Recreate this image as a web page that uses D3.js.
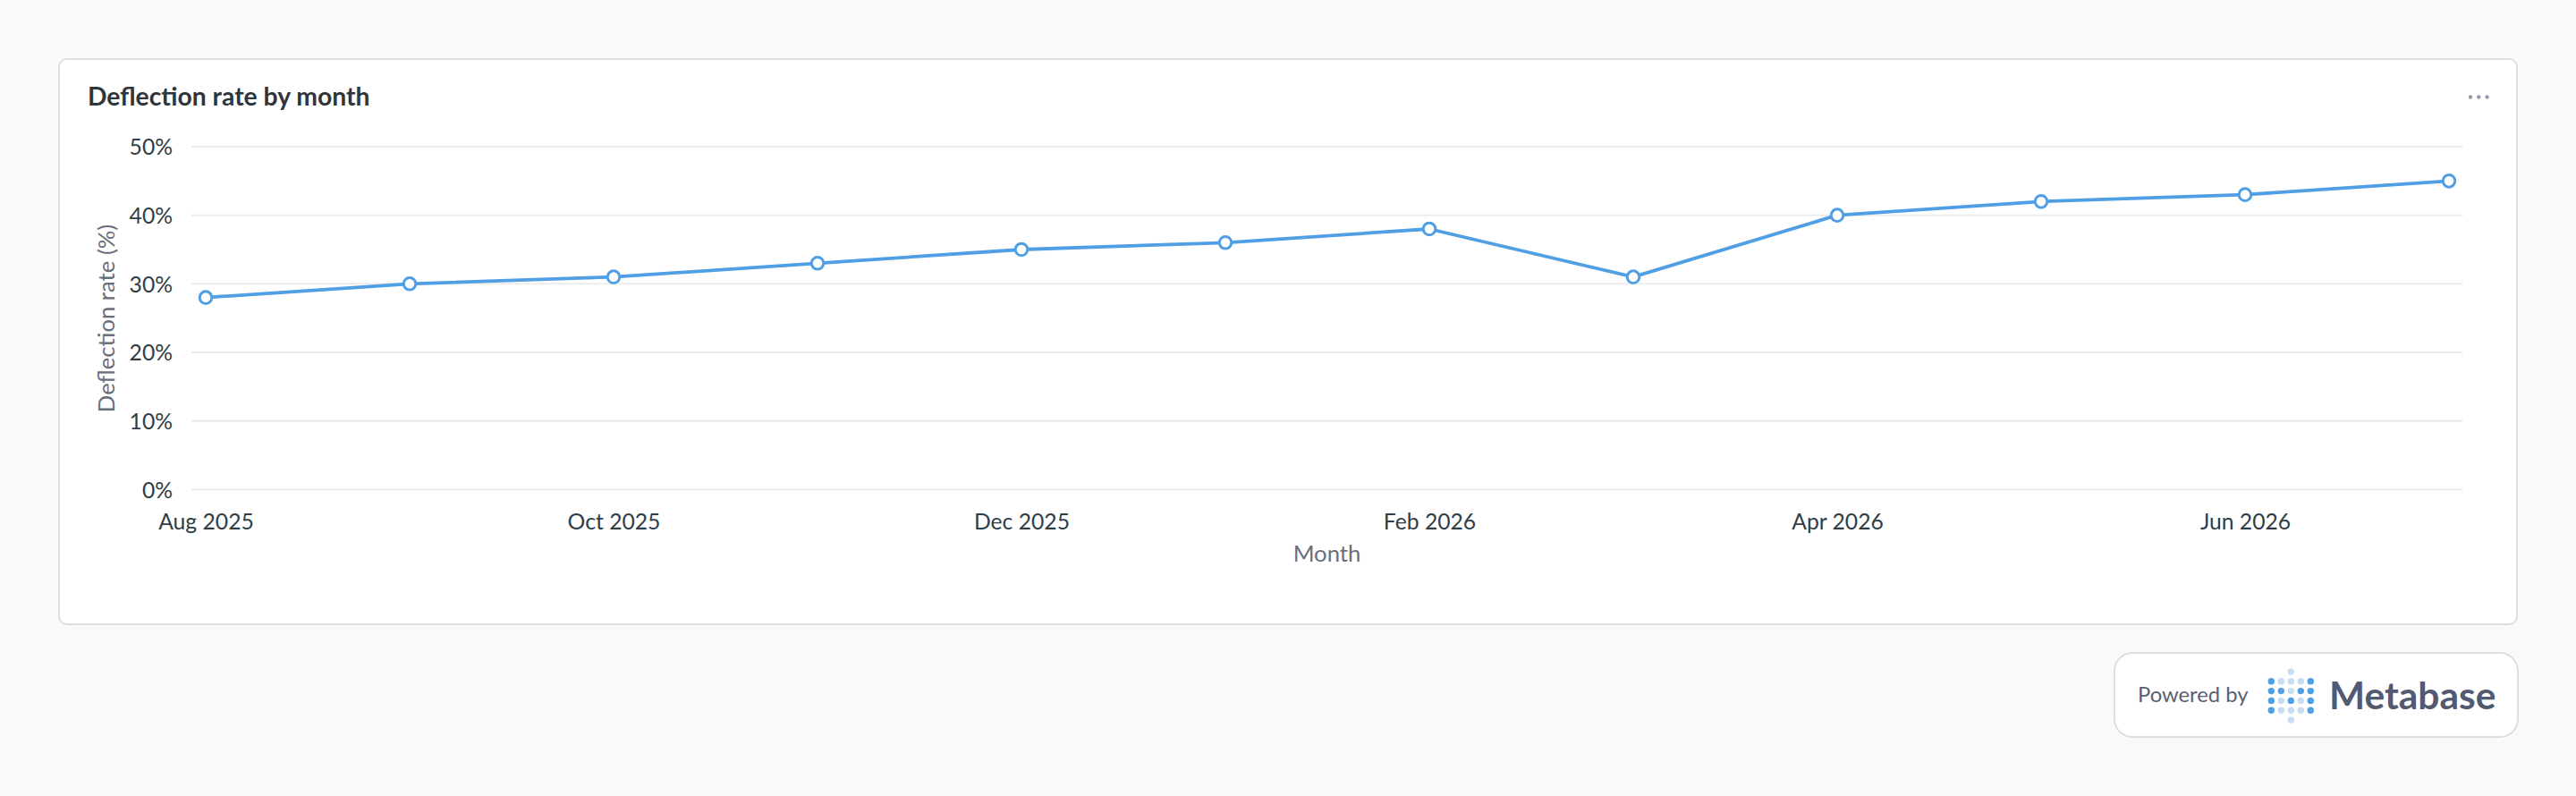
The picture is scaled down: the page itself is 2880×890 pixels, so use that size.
<!DOCTYPE html>
<html>
<head>
<meta charset="utf-8">
<script src="https://cdn.jsdelivr.net/npm/d3@7/dist/d3.min.js"></script>
<style>
  html, body { margin: 0; padding: 0; background: #f9f9f9; }
  svg { display: block; font-family: Lato, "Noto Sans", sans-serif; }
</style>
</head>
<body>
<svg id="chart" width="2880" height="890"></svg>
<script>
// ---- data ----
const months = ["Aug 2025","Sep 2025","Oct 2025","Nov 2025","Dec 2025","Jan 2026",
                "Feb 2026","Mar 2026","Apr 2026","May 2026","Jun 2026","Jul 2026"];
const deflectionRate = [28, 30, 31, 33, 35, 36, 38, 31, 40, 42, 43, 45];
const yTicks = [0, 10, 20, 30, 40, 50];
const xTickLabels = ["Aug 2025","Oct 2025","Dec 2025","Feb 2026","Apr 2026","Jun 2026"];
const chartTitle = "Deflection rate by month";
const yAxisTitle = "Deflection rate (%)";
const xAxisTitle = "Month";

// ---- layout ----
const svg = d3.select("#chart");
const plot = { left: 214, right: 2753, top: 164, bottom: 547.3 };

// card
svg.append("rect")
  .attr("x", 66).attr("y", 66).attr("width", 2748).attr("height", 632)
  .attr("rx", 9).attr("fill", "#ffffff").attr("stroke", "#dcdfe0").attr("stroke-width", 2);

svg.append("text")
  .attr("x", 98).attr("y", 118)
  .attr("font-size", 28.3).attr("font-weight", 700).attr("fill", "#2e353b")
  .text(chartTitle);

// menu dots
svg.selectAll("circle.menu").data([0, 1, 2]).join("circle")
  .attr("class", "menu")
  .attr("cx", d => 2762 + d * 9.3).attr("cy", 108.5).attr("r", 2.2)
  .attr("fill", "#949aab");

// scales
const x = d3.scalePoint().domain(months).range([230, 2738]);
const y = d3.scaleLinear().domain([0, 50]).range([plot.bottom, plot.top]);

// gridlines
svg.append("g").selectAll("line").data(yTicks).join("line")
  .attr("x1", plot.left).attr("x2", plot.right)
  .attr("y1", d => y(d)).attr("y2", d => y(d))
  .attr("stroke", "#ececec").attr("stroke-width", 2);

// y axis
const yAxis = d3.axisLeft(y).tickValues(yTicks).tickFormat(d => d + "%").tickSize(0).tickPadding(0);
const yg = svg.append("g").attr("transform", "translate(193,0)").call(yAxis);
yg.select(".domain").remove();
yg.selectAll("text").attr("font-size", 24.7).attr("fill", "#303d46")
  .attr("font-family", "Lato, sans-serif").attr("dy", "0.36em");

// x axis
const xAxis = d3.axisBottom(x).tickValues(xTickLabels).tickSize(0).tickPadding(0);
const xg = svg.append("g").attr("transform", "translate(0,573)").call(xAxis);
xg.select(".domain").remove();
xg.selectAll("text").attr("font-size", 24.7).attr("fill", "#303d46")
  .attr("font-family", "Lato, sans-serif").attr("dy", "0.75em");

// axis titles
svg.append("text")
  .attr("transform", "translate(128,356) rotate(-90)")
  .attr("text-anchor", "middle")
  .attr("font-size", 25.7).attr("fill", "#696e7b")
  .text(yAxisTitle);

svg.append("text")
  .attr("x", (plot.left + plot.right) / 2).attr("y", 628)
  .attr("text-anchor", "middle")
  .attr("font-size", 25.7).attr("fill", "#696e7b")
  .text(xAxisTitle);

// line
const line = d3.line().x((d, i) => x(months[i])).y(d => y(d));
svg.append("path").datum(deflectionRate)
  .attr("d", line).attr("fill", "none")
  .attr("stroke", "#509ee3").attr("stroke-width", 3.8)
  .attr("stroke-linejoin", "round");

svg.append("g").selectAll("circle").data(deflectionRate).join("circle")
  .attr("cx", (d, i) => x(months[i])).attr("cy", d => y(d))
  .attr("r", 6.8).attr("fill", "#ffffff")
  .attr("stroke", "#509ee3").attr("stroke-width", 3);

// powered by badge
svg.append("rect")
  .attr("x", 2364).attr("y", 730).attr("width", 451).attr("height", 94)
  .attr("rx", 20).attr("fill", "#ffffff").attr("stroke", "#dcdfe0").attr("stroke-width", 2);

svg.append("text")
  .attr("x", 2390).attr("y", 785)
  .attr("font-size", 23.8).attr("fill", "#5a6072")
  .text("Powered by");

const logoPattern = [
  [1, 0, 0, 0, 1],
  [1, 1, 0, 1, 1],
  [1, 0, 1, 0, 1],
  [1, 0, 0, 0, 1]
];
const logoDots = [];
logoPattern.forEach((row, r) => row.forEach((v, c) => logoDots.push({ c, r: r + 1, dark: v })));
logoDots.push({ c: 2, r: 0, dark: 0 }, { c: 2, r: 5, dark: 0 });
svg.append("g").selectAll("circle").data(logoDots).join("circle")
  .attr("cx", d => 2539.3 + d.c * 11)
  .attr("cy", d => 751 + d.r * 10.8)
  .attr("r", 3.7)
  .attr("fill", d => d.dark ? "#509ee3" : "#c6ddf4");

svg.append("text")
  .attr("x", 2604).attr("y", 793)
  .attr("font-size", 42.5).attr("font-weight", 700).attr("fill", "#525a72")
  .text("Metabase");
</script>
</body>
</html>
